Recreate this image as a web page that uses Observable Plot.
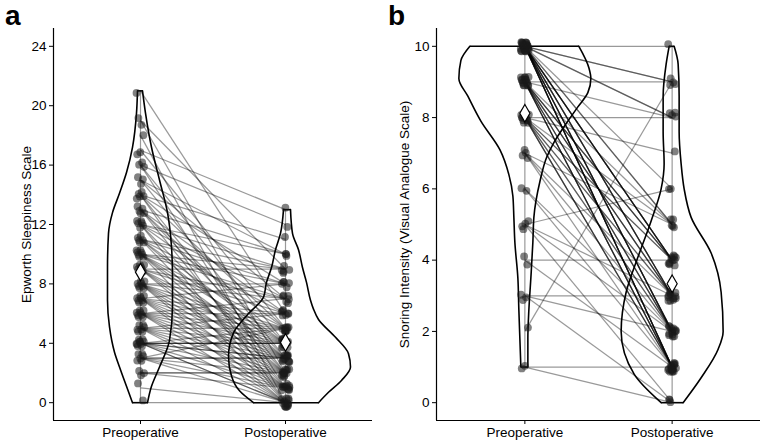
<!DOCTYPE html>
<html><head><meta charset="utf-8">
<script src="https://cdn.jsdelivr.net/npm/d3@7"></script>
<script src="https://cdn.jsdelivr.net/npm/@observablehq/plot@0.6"></script>
<style>
body{margin:0;background:#fff;font-family:"Liberation Sans",Arial,sans-serif}
#wrap{display:flex;width:762px;height:442px}
.panel{position:relative;width:381px;height:442px}
.tag{position:absolute;top:2px;font-size:28px;font-weight:bold;line-height:1;color:#000}
</style></head><body><div id="wrap"></div>
<script>
// ---------- data ----------
const groups = ["Preoperative", "Postoperative"];
const essTicks = [0, 4, 8, 12, 16, 20, 24];
const vasTicks = [0, 2, 4, 6, 8, 10];

// Panel a: Epworth Sleepiness Scale, paired (pre[i] -> post[i])
const essPre = [21, 19,19, 18, 17,17, 16,16,16, 15,15,15, 14,14,14,14,14, 13,13,13,13,13,
  12,12,12,12,12,12, 11,11,11,11,11,11, 10,10,10,10,10,10,10,10, 9,9,9,9,9,9,9,
  8,8,8,8,8,8,8,8, 7,7,7,7,7,7,7,7, 6,6,6,6,6,6,6,6, 5,5,5,5,5,5,5,
  4,4,4,4,4,4,4,4,4,4, 3,3,3,3,3,3, 2,2,2, 1, 0];
const essPost = [6, 2,9, 0, 13,5, 12,4,1, 10,3,7, 11,8,5,2,0, 10,6,4,3,1,
  10,9,7,5,2,0, 9,8,6,4,3,1, 9,8,7,5,4,3,2,0, 9,7,6,4,3,2,1,
  8,7,5,4,3,2,1,0, 8,6,5,4,3,2,1,0, 7,6,5,4,3,2,1,0, 6,5,4,3,2,1,0,
  5,4,4,4,3,3,2,1,0,0, 5,3,3,2,1,0, 2,2,1, 0, 0];

// Panel b: Snoring intensity (VAS), paired
const vasPre = [10,10,10,10,10,10,10,10,10,10,10,10,10,10,10,10,10,10,10,10,10,10,10,10,10,10,10,10,
  9,9,9,9,9,9,9,9,9,9,9,9,9,9,9,9, 8,8,8,8,8,8,8,8,8,8,8,8,
  7,7,7,7, 6,6, 5,5,5,5, 4,4, 3,3,3, 2, 1,1];
const vasPost = [10,9,9,8,8,6,5,5,4,4,4,4,4,3,3,3,3,2,2,2,2,2,1,1,1,1,1,1,
  9,8,5,4,4,4,3,3,3,2,2,2,1,1,1,1, 8,7,5,4,4,3,3,2,2,1,1,1,
  5,3,2,1, 2,1, 6,3,2,0, 4,1, 3,2,0, 9, 1,0];

// Violin outlines: value levels and half-widths (in pixel-equivalent density units)
const essPreLv = [0, 1.1, 2.4, 3.4, 5.1, 6.9, 9.1, 11.4, 12.8, 14.1, 15.5, 17.2, 19.5, 21];
const essPreLw = [8, 14, 21, 26, 31, 33, 33, 32, 28, 21, 14, 8, 4, 3];
const essPreRv = [0, 1.1, 2.4, 4.2, 6.5, 8.5, 10.5, 12.8, 15, 17.2, 19.5, 21];
const essPreRw = [7, 11, 19, 29, 32, 32, 31, 27, 19, 11, 5, 2];
const essPostLv = [0, 0.8, 1.8, 3.1, 4.7, 6.0, 7.1, 8.1, 9.1, 10.3, 11.4, 13];
const essPostLw = [32, 46, 54, 57, 52, 37, 22, 19, 14, 10, 5, 2];
const essPostRv = [0, 0.7, 1.5, 2.4, 3.3, 4.4, 5.6, 6.3, 6.9, 8.1, 9.1, 10.3, 11.4, 13];
const essPostRw = [33, 43, 56, 65, 63, 50, 33, 28, 25, 21, 17, 13, 7, 5];

const vasPreLv = [1, 1.8, 2.6, 3.5, 4.5, 5.2, 5.8, 6.4, 7.1, 7.9, 8.6, 9.1, 9.6, 10];
const vasPreLw = [4, 5, 6, 7, 10, 11, 12, 16, 25, 44, 57, 66, 64, 55];
const vasPreRv = [1, 1.8, 2.6, 3.5, 4.5, 5.2, 6.2, 6.9, 7.3, 7.9, 8.3, 8.7, 9.1, 9.4, 10];
const vasPreRw = [3, 3, 4, 6, 8, 9, 15, 22, 29, 43, 53, 63, 66, 64, 54];
const vasPostLv = [0, 0.8, 2.0, 3.1, 4.1, 5.1, 6.0, 6.7, 7.6, 8.6, 9.5, 10];
const vasPostLw = [11, 38, 51, 46, 34, 21, 11, 8, 9, 9, 6, 3];
const vasPostRv = [0, 0.7, 1.5, 2.0, 3.1, 4.2, 5.2, 6.0, 6.7, 7.6, 8.6, 9.5, 10];
const vasPostRw = [11, 29, 46, 51, 49, 39, 19, 12, 9, 7, 7, 6, 2];

// ---------- drawing ----------
const W = 381, H = 442;
const jit = (i, a) => ((i * a) % 1) - 0.5;

function panel(o) {
  const innerW = W - o.mL - o.mR;
  const k = 2.2 / innerW; // density unit -> x units
  const pairs = o.pre.map((p, i) => ({i, pre: p, post: o.post[i]}));
  const pts = pairs.flatMap(d => [{g: 1, v: d.pre, i: d.i}, {g: 2, v: d.post, i: d.i + 500}]);
  const means = [{g: 1, m: d3.mean(o.pre)}, {g: 2, m: d3.mean(o.post)}];
  const ranges = [{g: 1, a: d3.min(o.pre), b: d3.max(o.pre)}, {g: 2, a: d3.min(o.post), b: d3.max(o.post)}];
  const sides = [], caps = [];
  o.vio.forEach((v, gi) => {
    const c = gi + 1;
    v.Lv.forEach((y, j) => sides.push({key: c + "L", x: c - v.Lw[j] * k, y}));
    v.Rv.forEach((y, j) => sides.push({key: c + "R", x: c + v.Rw[j] * k, y}));
    caps.push({x1: c - v.Lw[0] * k, x2: c + v.Rw[0] * k, y: v.Lv[0]});
    const nl = v.Lv.length - 1, nr = v.Rv.length - 1;
    caps.push({x1: c - v.Lw[nl] * k, x2: c + v.Rw[nr] * k, y: v.Lv[nl]});
  });
  return Plot.plot({
    width: W, height: H,
    marginLeft: o.mL, marginRight: o.mR, marginTop: 28, marginBottom: 22,
    style: {fontFamily: "'Liberation Sans', Arial, sans-serif", fontSize: "13px", color: "#000", background: "transparent", overflow: "visible"},
    x: {type: "linear", domain: [0.4, 2.6]},
    y: {domain: o.yDomain},
    marks: [
      Plot.ruleX(ranges, {x: "g", y1: "a", y2: "b", stroke: "#000", strokeOpacity: 0.4, strokeWidth: 1.2}),
      Plot.link(pairs, {x1: 1, x2: 2, y1: "pre", y2: "post", stroke: "#000", strokeOpacity: 0.4, strokeWidth: 1.25}),
      Plot.line(sides, {x: "x", y: "y", z: "key", curve: "monotone-y", stroke: "#000", strokeWidth: 1.6}),
      Plot.link(caps, {x1: "x1", x2: "x2", y1: "y", y2: "y", stroke: "#000", strokeWidth: 1.6}),
      Plot.dot(pts, {
        x: d => d.g + jit(d.i, 0.6180339887) * 0.055,
        y: d => d.v + jit(d.i + 3, 0.7548776662) * o.jy,
        r: 3.9, fill: "#1a1a1a", fillOpacity: 0.55
      }),
      Plot.dot(means, {x: "g", y: "m", symbol: "diamond", r: 5.3, fill: "white", stroke: "#000", strokeWidth: 1.2}),
      Plot.ruleX([0.4], {stroke: "#000", strokeWidth: 1.2}),
      Plot.ruleY([o.yDomain[0]], {stroke: "#000", strokeWidth: 1.2}),
      Plot.axisY({ticks: o.ticks, tickSize: 4, tickPadding: 3, label: o.ylabel, labelAnchor: "center", labelArrow: false, labelOffset: o.labelOffset, fontSize: 13.5}),
      Plot.axisX({ticks: [1, 2], tickFormat: d => groups[d - 1], tickSize: 4, tickPadding: 3, label: null, fontSize: 13.5})
    ]
  });
}

const wrap = document.getElementById("wrap");
function addPanel(tag, tagLeft, chart) {
  const div = document.createElement("div");
  div.className = "panel";
  div.appendChild(chart);
  const t = document.createElement("div");
  t.className = "tag"; t.textContent = tag; t.style.left = tagLeft + "px";
  div.appendChild(t);
  wrap.appendChild(div);
}

addPanel("a", 5, panel({
  pre: essPre, post: essPost, yDomain: [-1.2, 25.2], ticks: essTicks,
  ylabel: "Epworth Sleepiness Scale", mL: 53, mR: 9, labelOffset: 32, jy: 0.6,
  vio: [
    {Lv: essPreLv, Lw: essPreLw, Rv: essPreRv, Rw: essPreRw},
    {Lv: essPostLv, Lw: essPostLw, Rv: essPostRv, Rw: essPostRw}
  ]
}));
addPanel("b", 7, panel({
  pre: vasPre, post: vasPost, yDomain: [-0.5, 10.5], ticks: vasTicks,
  ylabel: "Snoring Intensity (Visual Analogue Scale)", mL: 55, mR: 2, labelOffset: 37, jy: 0.3,
  vio: [
    {Lv: vasPreLv, Lw: vasPreLw, Rv: vasPreRv, Rw: vasPreRw},
    {Lv: vasPostLv, Lw: vasPostLw, Rv: vasPostRv, Rw: vasPostRw}
  ]
}));
</script></body></html>
